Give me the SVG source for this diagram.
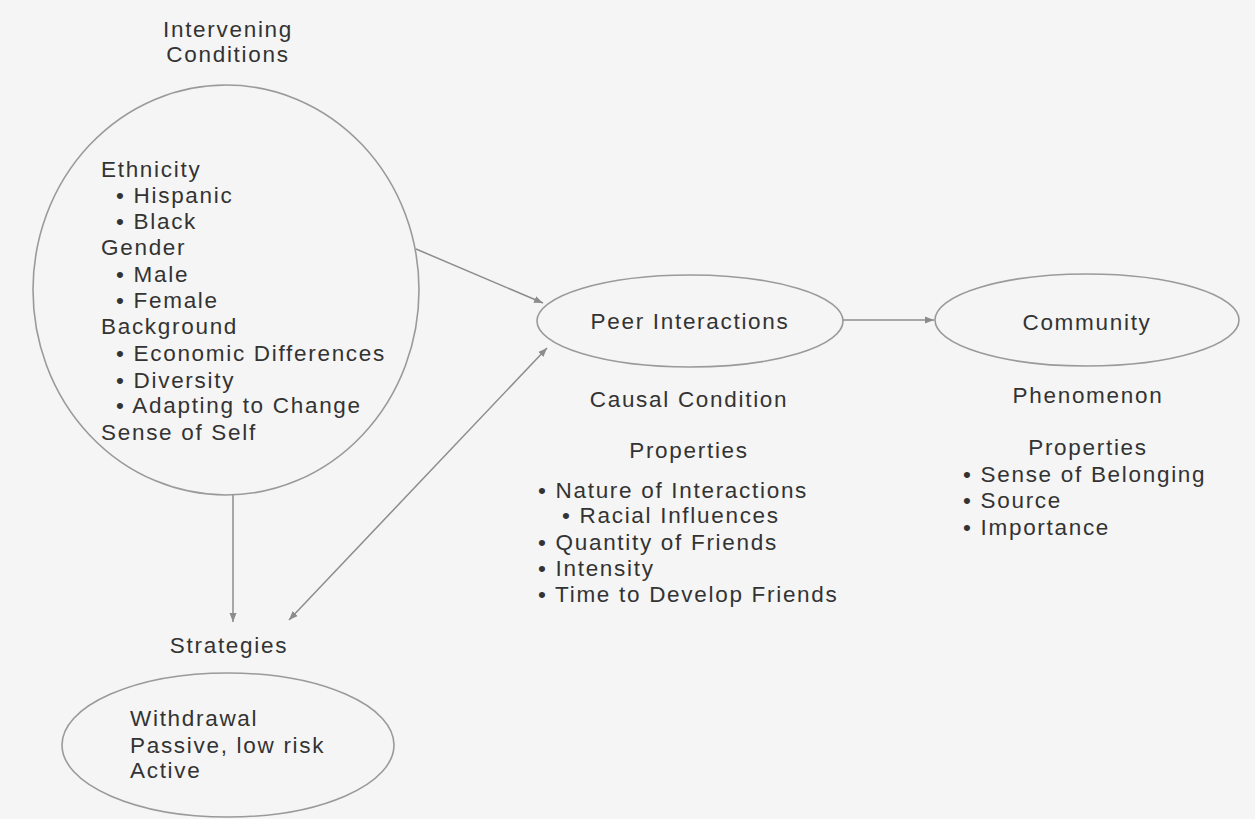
<svg xmlns="http://www.w3.org/2000/svg" width="1255" height="819" viewBox="0 0 1255 819">
<style>
text{font-family:"Liberation Sans",Arial,sans-serif;font-size:22.5px;fill:#333;letter-spacing:1.7px}
.c{text-anchor:middle}
ellipse{fill:none;stroke:#9a9a9a;stroke-width:1.6}
.ln{stroke:#8c8c8c;stroke-width:1.5;fill:none}
</style>
<defs>
<marker id="ah" markerWidth="10" markerHeight="8" refX="9" refY="4" orient="auto" markerUnits="userSpaceOnUse">
<path d="M0,0.5 L9,4 L0,7.5 Z" fill="#8c8c8c"/>
</marker>
<marker id="as" markerWidth="10" markerHeight="8" refX="1" refY="4" orient="auto" markerUnits="userSpaceOnUse">
<path d="M10,0.5 L1,4 L10,7.5 Z" fill="#8c8c8c"/>
</marker>
</defs>
<rect width="1255" height="819" fill="#f5f5f5"/>
<g id="connectors">
<line class="ln" x1="416" y1="249" x2="543" y2="303" marker-end="url(#ah)"/>
<line class="ln" x1="547" y1="348" x2="289" y2="620" marker-start="url(#as)" marker-end="url(#ah)"/>
<line class="ln" x1="233" y1="494" x2="233" y2="622" marker-end="url(#ah)"/>
<line class="ln" x1="843" y1="320" x2="934" y2="320" marker-end="url(#ah)"/>
</g>
<g id="intervening">
<text class="c" x="228" y="37">Intervening</text>
<text class="c" x="228" y="62">Conditions</text>
<ellipse cx="226" cy="290" rx="193" ry="205"/>
<text x="101" y="177">Ethnicity</text>
<text x="116" y="203">• Hispanic</text>
<text x="116" y="229">• Black</text>
<text x="101" y="255">Gender</text>
<text x="116" y="282">• Male</text>
<text x="116" y="308">• Female</text>
<text x="101" y="334">Background</text>
<text x="116" y="361">• Economic Differences</text>
<text x="116" y="388">• Diversity</text>
<text x="116" y="413">• Adapting to Change</text>
<text x="101" y="440">Sense of Self</text>
</g>
<g id="peer">
<ellipse cx="690" cy="321" rx="153" ry="46"/>
<text class="c" x="690" y="329">Peer Interactions</text>
<text class="c" x="689" y="407">Causal Condition</text>
<text class="c" x="689" y="458">Properties</text>
<text x="538" y="498">• Nature of Interactions</text>
<text x="562" y="523">• Racial Influences</text>
<text x="538" y="550">• Quantity of Friends</text>
<text x="538" y="576">• Intensity</text>
<text x="538" y="602">• Time to Develop Friends</text>
</g>
<g id="community">
<ellipse cx="1087" cy="320" rx="152" ry="46"/>
<text class="c" x="1087" y="330">Community</text>
<text class="c" x="1088" y="403">Phenomenon</text>
<text class="c" x="1088" y="455">Properties</text>
<text x="963" y="482">• Sense of Belonging</text>
<text x="963" y="508">• Source</text>
<text x="963" y="535">• Importance</text>
</g>
<g id="strategies">
<text class="c" x="229" y="653">Strategies</text>
<ellipse cx="228" cy="745" rx="166" ry="72"/>
<text x="130" y="726">Withdrawal</text>
<text x="130" y="753">Passive, low risk</text>
<text x="130" y="778">Active</text>
</g>
</svg>
